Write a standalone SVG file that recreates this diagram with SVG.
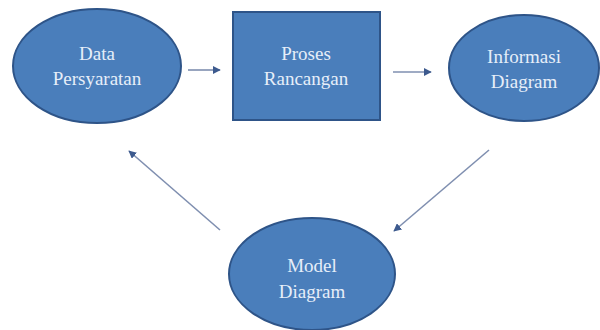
<svg xmlns="http://www.w3.org/2000/svg" width="600" height="330" viewBox="0 0 600 330">
<style>
.shape{fill:#4a7ebb;stroke:#2e5488;stroke-width:2}
.lbl{font-family:'Liberation Serif','DejaVu Serif',serif;font-size:19px;fill:#e6eef9;text-anchor:middle}
.conn{stroke:#7f8fb0;stroke-width:1.6;fill:none;marker-end:url(#ah)}
</style>
<defs>
<marker id="ah" viewBox="0 0 10 10" refX="9" refY="5" markerWidth="5" markerHeight="5" orient="auto" markerUnits="strokeWidth">
<path d="M0,0 L10,5 L0,10 z" fill="#3d5a8e"/>
</marker>
</defs>
<rect width="600" height="330" fill="#ffffff"/>
<g id="connectors">
<line class="conn" x1="188" y1="70" x2="220" y2="70"/>
<line class="conn" x1="393" y1="72" x2="431" y2="72"/>
<line class="conn" x1="220" y1="230" x2="129" y2="151"/>
<line class="conn" x1="489" y1="150" x2="394" y2="231"/>
</g>
<g id="node-data">
<ellipse class="shape" cx="97" cy="66" rx="84" ry="57"/>
<text class="lbl" x="97" y="60">Data</text>
<text class="lbl" x="97" y="85">Persyaratan</text>
</g>
<g id="node-proses">
<rect class="shape" x="233" y="12" width="147" height="108"/>
<text class="lbl" x="306" y="60">Proses</text>
<text class="lbl" x="306" y="85">Rancangan</text>
</g>
<g id="node-informasi">
<ellipse class="shape" cx="524" cy="68" rx="75" ry="53"/>
<text class="lbl" x="524" y="63">Informasi</text>
<text class="lbl" x="524" y="88">Diagram</text>
</g>
<g id="node-model">
<ellipse class="shape" cx="312" cy="274" rx="83" ry="56"/>
<text class="lbl" x="312" y="272">Model</text>
<text class="lbl" x="312" y="298">Diagram</text>
</g>
</svg>
